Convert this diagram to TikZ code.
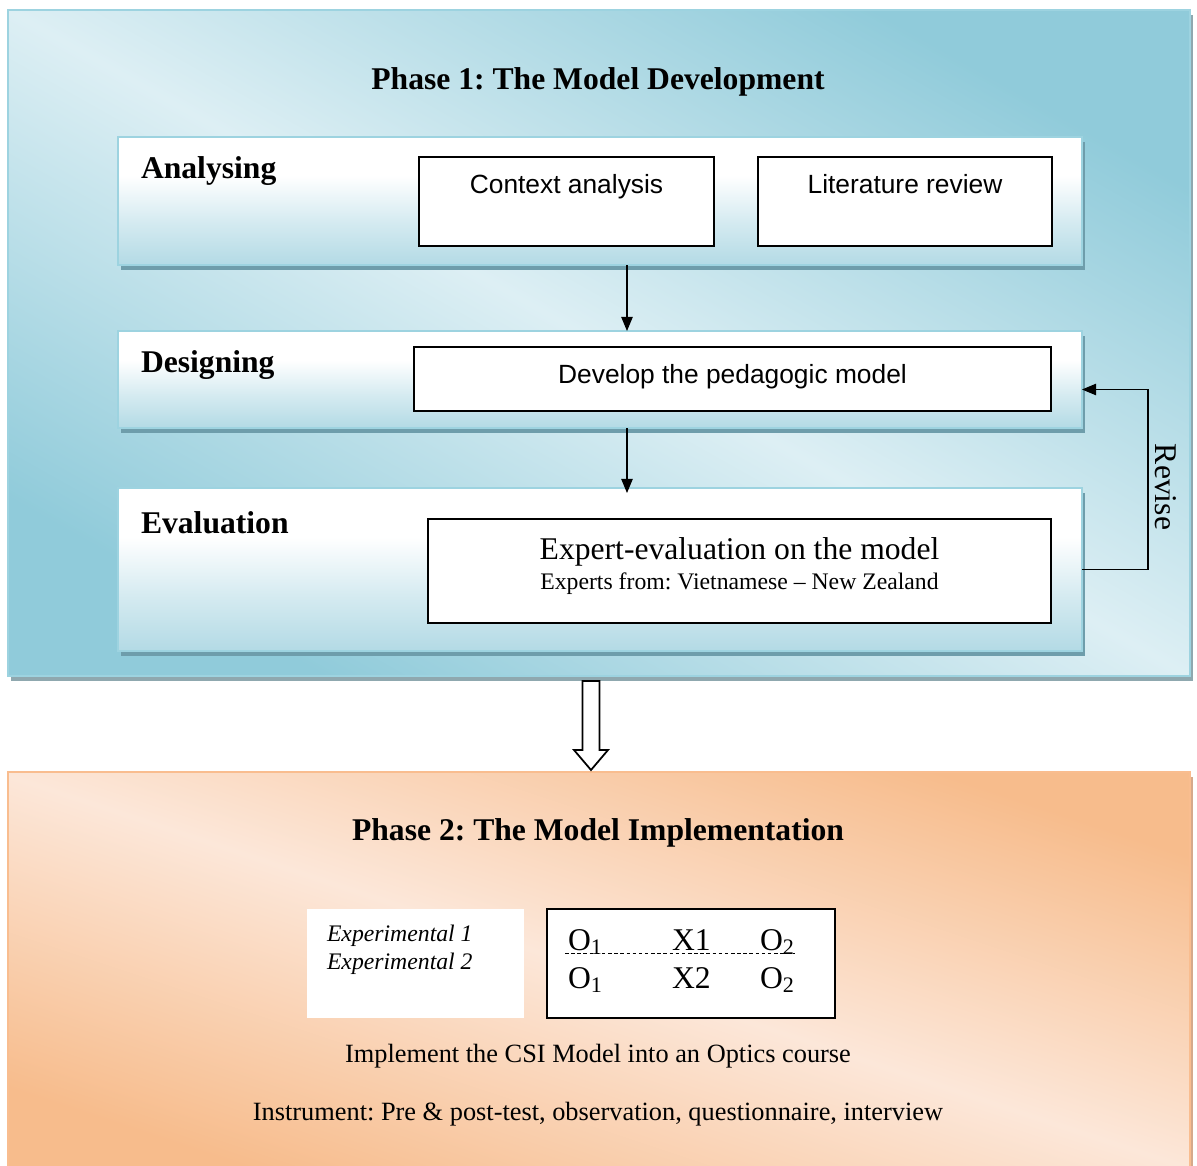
\documentclass[tikz,border=0pt]{standalone}
\usepackage{fontspec}
\setmainfont{Liberation Serif}
\newfontfamily\arialf{Liberation Sans}
\usetikzlibrary{arrows.meta,calc}
\definecolor{pOneDark}{HTML}{90CBDA}
\definecolor{pOneLight}{HTML}{DDEFF4}
\definecolor{pOneBorder}{HTML}{9DD3E0}
\definecolor{pOneShadow}{HTML}{8FA8AF}
\definecolor{panelBlue}{HTML}{B3DAE5}
\definecolor{panelShadow}{HTML}{6E9DAB}
\definecolor{pTwoDark}{HTML}{F7BC8C}
\definecolor{pTwoLight}{HTML}{FCE7D9}
\definecolor{pTwoBorder}{HTML}{F9BD8F}
\definecolor{pTwoShadow}{HTML}{D6A98B}
\pgfdeclareverticalshading{panelshade}{100bp}{color(0bp)=(panelBlue); color(25bp)=(panelBlue); color(42bp)=(panelBlue!55!white); color(60bp)=(white); color(100bp)=(white)}
\frenchspacing
\tikzset{
  every node/.style={inner sep=0pt, outer sep=0pt},
  frame/.style={anchor=north west},
  ttl/.style={font=\bfseries\fontsize{18}{21}\selectfont},
  stage/.style={font=\bfseries\fontsize{18}{21}\selectfont, anchor=west},
  arialtext/.style={font=\arialf\fontsize{15}{18}\selectfont},
  serifbig/.style={font=\fontsize{18}{21}\selectfont},
  serifmid/.style={font=\fontsize{15}{18}\selectfont},
  serifsmall/.style={font=\fontsize{13.5}{16}\selectfont},
  expital/.style={font=\itshape\fontsize{13.5}{16}\selectfont, anchor=base west},
  cell/.style={font=\fontsize{18}{21}\selectfont, anchor=base west},
  whitebox/.style={draw=black, line width=0.8pt, fill=white, anchor=north west},
  arr/.style={-{Triangle[length=8pt,width=6.5pt]}, line width=0.6pt},
  panelfill/.style={shading=panelshade, draw=pOneBorder, line width=1pt},
}
\begin{document}
\begin{tikzpicture}[x=0.02cm, y=-0.02cm]
\clip (0,0) rectangle (1197,1166);
\fill[white] (0,0) rectangle (1197,1166);

% ---------- Phase 1 ----------
\node[frame, minimum width=1182*0.02cm, minimum height=666*0.02cm] (p1) at (8,10) {};
\fill[pOneShadow] ($(p1.north west)+(3,5)$) rectangle ($(p1.south east)+(3,5)$);
\shade[top color=pOneDark, bottom color=pOneDark, middle color=pOneLight, shading angle=-29.4]
  (p1.north west) rectangle (p1.south east);
\draw[pOneBorder, line width=1.2pt] (p1.north west) rectangle (p1.south east);
\node[ttl] (t1) at (598,82) {Phase 1: The Model Development};

% panels
\node[frame, minimum width=964*0.02cm, minimum height=128*0.02cm] (ana) at (118,137) {};
\node[frame, minimum width=964*0.02cm, minimum height=97*0.02cm] (des) at (118,331) {};
\node[frame, minimum width=964*0.02cm, minimum height=163*0.02cm] (eva) at (118,488) {};
\foreach \p in {ana,des,eva}{
  \fill[panelShadow] ($(\p.north west)+(3,5)$) rectangle ($(\p.south east)+(3,5)$);
  \shade[panelfill] (\p.north west) rectangle (\p.south east);
}
\node[stage] (lana) at (141,171) {Analysing};
\node[stage] (ldes) at (141,365) {Designing};
\node[stage] (leva) at (141,523) {Evaluation};

% white boxes
\node[whitebox, minimum width=295*0.02cm, minimum height=89*0.02cm] (ctx) at (419,157) {};
\node[whitebox, minimum width=294*0.02cm, minimum height=89*0.02cm] (lit) at (758,157) {};
\node[whitebox, minimum width=637*0.02cm, minimum height=64*0.02cm] (dev) at (414,347) {};
\node[whitebox, minimum width=623*0.02cm, minimum height=104*0.02cm] (exb) at (428,519) {};
\node[arialtext, anchor=base] (tctx) at ($(ctx.north)+(0,36.5)$) {Context analysis};
\node[arialtext, anchor=base] (tlit) at ($(lit.north)+(0,36.5)$) {Literature review};
\node[arialtext] (tdev) at ($(dev.center)+(0,-2)$) {Develop the pedagogic model};
\node[serifbig] (texa) at ($(exb.north)+(0,33)$) {Expert-evaluation on the model};
\node[serifsmall] (texb) at ($(exb.north)+(0,65)$) {Experts from: Vietnamese -- New Zealand};

% connectors
\coordinate (cx) at (627,0);
\draw[arr] (ana.south -| cx) -- (des.north -| cx);
\draw[arr] (des.south -| cx) -- ($(eva.north -| cx)+(0,5)$);
\coordinate (rv) at ($(des.east)+(0,10)$);
\draw[arr] (eva.east) -- ++(66,0) |- (rv);
\node[serifbig, rotate=-90] (trev) at (1166,487) {Revise};

% ---------- Phase 2 ----------
\node[frame, minimum width=1182*0.02cm, minimum height=400*0.02cm] (p2) at (8,772) {};
\fill[pTwoShadow] ($(p2.north west)+(3,5)$) rectangle ($(p2.south east)+(3,5)$);
\shade[top color=pTwoDark, bottom color=pTwoDark, middle color=pTwoLight, shading angle=-18.4]
  (p2.north west) rectangle (p2.south east);
\draw[pTwoBorder, line width=1.2pt] (p2.north west) rectangle (p2.south east);
\node[ttl] (t2) at (598,833) {Phase 2: The Model Implementation};

% block arrow between phases
\coordinate (ba) at (591,681);
\draw[line width=1pt, fill=white, line join=miter]
  ($(ba)+(-8.5,0)$) -- ($(ba)+(8.5,0)$) -- ($(ba)+(8.5,69)$) -- ($(ba)+(17,69)$)
  -- ($(ba)+(0,89)$) -- ($(ba)+(-17,69)$) -- ($(ba)+(-8.5,69)$) -- cycle;

% design table
\node[frame, fill=white, minimum width=217*0.02cm, minimum height=109*0.02cm] (grp) at (307,909) {};
\node[expital] (g1) at (327,941) {Experimental 1};
\node[expital] (g2) at (327,969) {Experimental 2};
\node[frame, draw=black, line width=1.3pt, fill=white, minimum width=288*0.02cm, minimum height=109*0.02cm] (tab) at (547,909) {};
\node[cell] (a1) at (568,950) {O\textsubscript{1}};
\node[cell] (b1) at (672,950) {X1};
\node[cell] (c1) at (760,950) {O\textsubscript{2}};
\node[cell] (a2) at (568,988) {O\textsubscript{1}};
\node[cell] (b2) at (672,988) {X2};
\node[cell] (c2) at (760,988) {O\textsubscript{2}};
\draw[line width=0.5pt, dash pattern=on 2pt off 1.5pt] ($(a1.base west)+(-3,3)$) -- ($(c1.base east)+(0,3)$);

\node[serifmid] (timp) at (598,1056) {Implement the CSI Model into an Optics course};
\node[serifmid] (tins) at (598,1114) {Instrument: Pre \& post-test, observation, questionnaire, interview};
\end{tikzpicture}
\end{document}
